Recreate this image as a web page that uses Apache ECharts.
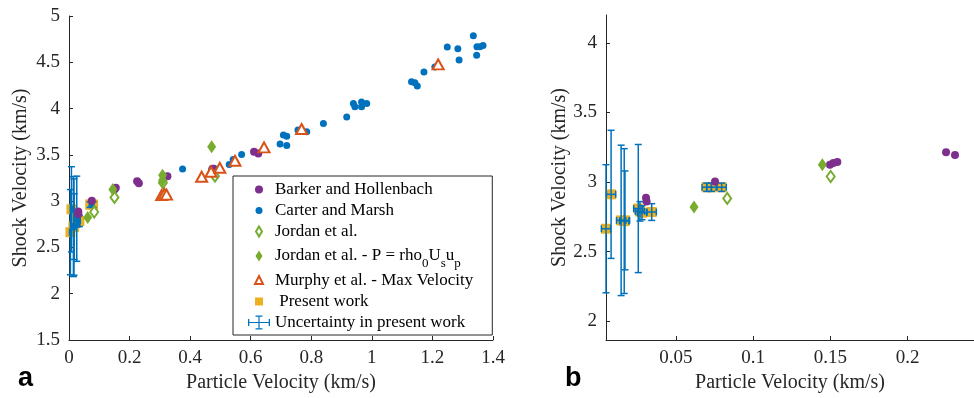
<!DOCTYPE html>
<html>
<head>
<meta charset="utf-8">
<script src="https://cdn.jsdelivr.net/npm/echarts@6/dist/echarts.min.js"></script>
<style>
  html, body { margin: 0; padding: 0; background: #fff; }
  #main { width: 974px; height: 398px; }
</style>
</head>
<body>
<div id="main"></div>
<script>
// series names
const NAMES = [
  'Barker and Hollenbach',
  'Carter and Marsh',
  'Jordan et al.',
  'Jordan et al. - P = rho0Usup',
  'Murphy et al. - Max Velocity',
  ' Present work',
  'Uncertainty in present work'
];

// Barker and Hollenbach
const barkerX = [0.0306, 0.031, 0.0753, 0.1497, 0.1519, 0.1545, 0.2249, 0.2307, 0.311, 0.325, 0.474, 0.611, 0.625];
const barkerY = [2.888, 2.86, 3.004, 3.125, 3.137, 3.145, 3.215, 3.194, 3.21, 3.27, 3.35, 3.533, 3.516];

// Carter and Marsh
const carterX = [0.375, 0.471, 0.479, 0.529, 0.542, 0.570, 0.697, 0.708, 0.719, 0.719, 0.756, 0.785, 0.840, 0.917,
  0.939, 0.944, 0.966, 0.966, 0.983, 1.131, 1.142, 1.150, 1.172, 1.208, 1.249, 1.284, 1.288, 1.335, 1.346, 1.347, 1.357, 1.367];
const carterY = [3.347, 3.343, 3.354, 3.397, 3.451, 3.505, 3.617, 3.714, 3.70, 3.60, 3.768, 3.75, 3.84, 3.91,
  4.056, 4.02, 4.07, 4.02, 4.056, 4.29, 4.28, 4.243, 4.394, 4.45, 4.664, 4.646, 4.524, 4.786, 4.575, 4.667, 4.667, 4.68];

// Jordan et al. (open diamonds)
const jordanX = [0.0832, 0.1502, 0.31, 0.482];
const jordanY = [2.883, 3.04, 3.20, 3.27];

// Jordan et al. - P = rho0 Us up (filled diamonds)
const jordanPX = [0.0617, 0.1448, 0.309, 0.309, 0.471];
const jordanPY = [2.822, 3.125, 3.28, 3.225, 3.587];

// Murphy et al. - Max Velocity
const murphyX = [0.306, 0.315, 0.322, 0.438, 0.469, 0.498, 0.548, 0.644, 0.768, 1.219];
const murphyY = [3.065, 3.08, 3.07, 3.264, 3.318, 3.36, 3.436, 3.581, 3.779, 4.477];

// Present work + uncertainty (half widths)
const presentX = [0.0047, 0.0080, 0.0145, 0.0165, 0.0170, 0.0256, 0.0267, 0.0280, 0.0343, 0.0699, 0.0730, 0.0796];
const presentY = [2.665, 2.912, 2.725, 2.72, 2.725, 2.81, 2.79, 2.78, 2.785, 2.963, 2.963, 2.963];
const presentErrY = [0.46, 0.46, 0.54, 0.52, 0.355, 0.46, 0.07, 0.05, 0.06, 0.03, 0.03, 0.03];
const presentErrX = [0.003, 0.003, 0.003, 0.003, 0.003, 0.003, 0.003, 0.003, 0.003, 0.003, 0.003, 0.003];

// tick labels
const xTicksA = [0, 0.2, 0.4, 0.6, 0.8, 1, 1.2, 1.4];
const yTicksA = [1.5, 2, 2.5, 3, 3.5, 4, 4.5, 5];
const xTicksB = [0.05, 0.1, 0.15, 0.2];
const yTicksB = [2, 2.5, 3, 3.5, 4];

const PURPLE = '#7E2F8E', BLUE = '#0072BD', GREEN = '#77AC30', ORANGE = '#D95319', YELLOW = '#EDB120';
const AXIS = '#262626';
const SERIF = 'Liberation Serif';

const pairs = (xs, ys) => xs.map((x, i) => [x, ys[i]]);
const errData = presentX.map((x, i) => [x, presentY[i], presentErrY[i], presentErrX[i]]);

function renderErr(params, api) {
  const x = api.value(0), y = api.value(1), ey = api.value(2), ex = api.value(3);
  const top = api.coord([x, y + ey]);
  const bot = api.coord([x, y - ey]);
  const lft = api.coord([x - ex, y]);
  const rgt = api.coord([x + ex, y]);
  const cap = 3.5;
  const style = { stroke: BLUE, lineWidth: 1.5, fill: null };
  const ln = (x1, y1, x2, y2) => ({ type: 'line', shape: { x1, y1, x2, y2 }, style });
  return {
    type: 'group',
    children: [
      ln(top[0], top[1], bot[0], bot[1]),
      ln(top[0] - cap, top[1], top[0] + cap, top[1]),
      ln(bot[0] - cap, bot[1], bot[0] + cap, bot[1]),
      ln(lft[0], lft[1], rgt[0], rgt[1]),
      ln(lft[0], lft[1] - cap, lft[0], lft[1] + cap),
      ln(rgt[0], rgt[1] - cap, rgt[0], rgt[1] + cap)
    ]
  };
}

function panelSeries(i) {
  const ax = { xAxisIndex: i, yAxisIndex: i };
  return [
    Object.assign({ name: NAMES[5], type: 'scatter', symbol: 'rect', symbolSize: 10, z: 2,
      itemStyle: { color: YELLOW, opacity: 1 }, data: pairs(presentX, presentY) }, ax),
    Object.assign({ name: NAMES[6], type: 'custom', renderItem: renderErr, clip: false, z: 3,
      itemStyle: { color: BLUE }, encode: { x: 0, y: 1 }, data: errData }, ax),
    Object.assign({ name: NAMES[1], type: 'scatter', symbol: 'circle', symbolSize: 7, z: 4,
      itemStyle: { color: BLUE, opacity: 1 }, data: pairs(carterX, carterY) }, ax),
    Object.assign({ name: NAMES[0], type: 'scatter', symbol: 'circle', symbolSize: 8, z: 4,
      itemStyle: { color: PURPLE, opacity: 1 }, data: pairs(barkerX, barkerY) }, ax),
    Object.assign({ name: NAMES[2], type: 'scatter', symbol: 'diamond', symbolSize: [8, 11], z: 4,
      itemStyle: { color: '#fff', borderColor: GREEN, borderWidth: 2, opacity: 1 }, data: pairs(jordanX, jordanY) }, ax),
    Object.assign({ name: NAMES[3], type: 'scatter', symbol: 'diamond', symbolSize: [9, 13], z: 4,
      itemStyle: { color: GREEN, opacity: 1 }, data: pairs(jordanPX, jordanPY) }, ax),
    Object.assign({ name: NAMES[4], type: 'scatter', symbol: 'triangle', symbolSize: [11, 10], z: 4,
      itemStyle: { color: '#fff', borderColor: ORANGE, borderWidth: 2, opacity: 1 }, data: pairs(murphyX, murphyY) }, ax)
  ];
}

const PAD = 'M0 0M22 14';
const ICONS = [
  'path://' + PAD + 'M15 7A4 4 0 1 1 7 7A4 4 0 1 1 15 7Z',
  'path://' + PAD + 'M14.5 7A3.5 3.5 0 1 1 7.5 7A3.5 3.5 0 1 1 14.5 7Z',
  'path://' + PAD + 'M11 2L14 7L11 12L8 7Z',
  'path://' + PAD + 'M11 1.5L14.5 7L11 12.5L7.5 7Z',
  'path://' + PAD + 'M11 2.5L15 10.5L7 10.5Z',
  'path://' + PAD + 'M7 3L15 3L15 11L7 11Z',
  'path://M10.4 0L11.6 0L11.6 14L10.4 14Z M7.5 0L14.5 0L14.5 1.3L7.5 1.3Z M7.5 12.7L14.5 12.7L14.5 14L7.5 14Z ' +
    'M0 6.4L22 6.4L22 7.6L0 7.6Z M0 3.5L1.3 3.5L1.3 10.5L0 10.5Z M20.7 3.5L22 3.5L22 10.5L20.7 10.5Z'
];
const ICON_STYLES = [
  { color: PURPLE, borderWidth: 0 },
  { color: BLUE, borderWidth: 0 },
  { color: '#fff', borderColor: GREEN, borderWidth: 2 },
  { color: GREEN, borderWidth: 0 },
  { color: '#fff', borderColor: ORANGE, borderWidth: 2 },
  { color: YELLOW, borderWidth: 0 },
  { color: BLUE, borderWidth: 0 }
];

function axisCommon() {
  return {
    axisLine: { show: true, onZero: false, lineStyle: { color: AXIS, width: 1 } },
    axisTick: { show: true, inside: true, length: 4, lineStyle: { color: AXIS } },
    splitLine: { show: false },
    axisLabel: { color: AXIS, fontFamily: SERIF, fontSize: 19, margin: 9 },
    nameLocation: 'middle',
    nameTextStyle: { color: AXIS, fontFamily: SERIF, fontSize: 20 }
  };
}

const chart = echarts.init(document.getElementById('main'));

chart.setOption({
  animation: false,
  backgroundColor: '#fff',
  grid: [
    { left: 69, top: 16, width: 424, height: 324 },
    { left: 606, top: 15, width: 368, height: 325 }
  ],
  xAxis: [
    Object.assign(axisCommon(), { gridIndex: 0, type: 'value', min: xTicksA[0], max: xTicksA[xTicksA.length - 1], interval: 0.2,
      name: 'Particle Velocity (km/s)', nameGap: 30 }),
    Object.assign(axisCommon(), { gridIndex: 1, type: 'value', min: 0.0047, max: 0.243,
      name: 'Particle Velocity (km/s)', nameGap: 30 })
  ],
  yAxis: [
    Object.assign(axisCommon(), { gridIndex: 0, type: 'value', min: yTicksA[0], max: yTicksA[yTicksA.length - 1], interval: 0.5,
      name: 'Shock Velocity (km/s)', nameGap: 38 }),
    Object.assign(axisCommon(), { gridIndex: 1, type: 'value', min: 1.866, max: 4.2,
      name: 'Shock Velocity (km/s)', nameGap: 31 })
  ],
  legend: {
    orient: 'vertical',
    left: 233,
    top: 176,
    padding: [3, 19, 2, 14],
    itemGap: 0,
    itemWidth: 22,
    itemHeight: 14,
    itemTextGap: 11,
    backgroundColor: '#fff',
    borderColor: AXIS,
    borderWidth: 1,
    selectedMode: false,
    data: NAMES.map((n, i) => ({ name: n, icon: ICONS[i], itemStyle: ICON_STYLES[i] })),
    formatter: (n) => n === NAMES[3]
      ? '{m|Jordan et al. - P = rho}{s|0}{m|U}{s|s}{m|u}{s|p}'
      : n,
    textStyle: {
      color: '#000', fontFamily: SERIF, fontSize: 17, lineHeight: 21,
      rich: {
        m: { color: '#000', fontFamily: SERIF, fontSize: 17, lineHeight: 28 },
        s: { color: '#000', fontFamily: SERIF, fontSize: 13, lineHeight: 13, verticalAlign: 'bottom' }
      }
    }
  },
  graphic: [
    { type: 'text', left: 18, top: 365, style: { text: 'a', font: 'bold 27px Liberation Sans', fill: '#000' } },
    { type: 'text', left: 565, top: 365, style: { text: 'b', font: 'bold 27px Liberation Sans', fill: '#000' } }
  ],
  series: panelSeries(0).concat(panelSeries(1))
});

// panel b: ticks only at the round values
chart.setOption({
  xAxis: [{}, { axisLabel: { customValues: xTicksB }, axisTick: { customValues: xTicksB } }],
  yAxis: [{}, { axisLabel: { customValues: yTicksB }, axisTick: { customValues: yTicksB } }]
});
</script>
</body>
</html>
